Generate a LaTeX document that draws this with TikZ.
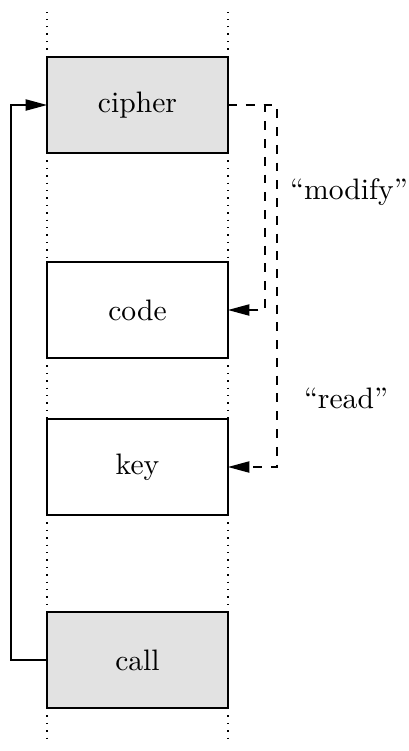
\documentclass[tikz,border=0pt]{standalone}
\usetikzlibrary{arrows.meta}
\definecolor{boxgray}{RGB}{226,226,226}
\tikzset{
  mem/.style={draw=black, line width=0.45pt, minimum width=181*0.3378pt, minimum height=96*0.3378pt, inner sep=0pt, outer sep=0pt},
  shaded/.style={mem, fill=boxgray},
  conn/.style={line width=0.4pt, -{Triangle[length=7.2pt,width=3.8pt]}},
  dotline/.style={dotted, line width=0.5pt},
  lbl/.style={inner sep=0pt}
}
\begin{document}
\begin{tikzpicture}[x=0.3378pt, y=-0.3378pt]
\useasboundingbox (0,0) rectangle (409,751);
\node[shaded] (cipher) at (137.5,105) {cipher};
\node[mem] (code) at (137.5,310) {code};
\node[mem] (key) at (137.5,467) {key};
\node[shaded] (call) at (137.5,660) {call};
\coordinate (top) at (47,12);
\coordinate (bot) at (47,745);
\coordinate (lft) at (11,0);
\coordinate (mx) at (265,0);
\coordinate (rx) at (277,0);
% dotted column lines
\draw[dotline] (cipher.north west) -- (cipher.north west |- top);
\draw[dotline] (cipher.north east) -- (cipher.north east |- top);
\draw[dotline] (cipher.south west) -- (code.north west);
\draw[dotline] (cipher.south east) -- (code.north east);
\draw[dotline] (code.south west) -- (key.north west);
\draw[dotline] (code.south east) -- (key.north east);
\draw[dotline] (key.south west) -- (call.north west);
\draw[dotline] (key.south east) -- (call.north east);
\draw[dotline] (call.south west) -- (call.south west |- bot);
\draw[dotline] (call.south east) -- (call.south east |- bot);
% call -> cipher
\draw[conn] (call.west) -- (call.west -| lft) |- (cipher.west);
% dashed connectors
\draw[conn, dashed] (cipher.east) -- (cipher.east -| mx) |- (code.east);
\draw[conn, dashed] (cipher.east) -- (cipher.east -| rx) |- (key.east);
\node[lbl] (modify) at (349,192) {``modify''};
\node[lbl] (read) at (346,398) {``read''};
\end{tikzpicture}
\end{document}
